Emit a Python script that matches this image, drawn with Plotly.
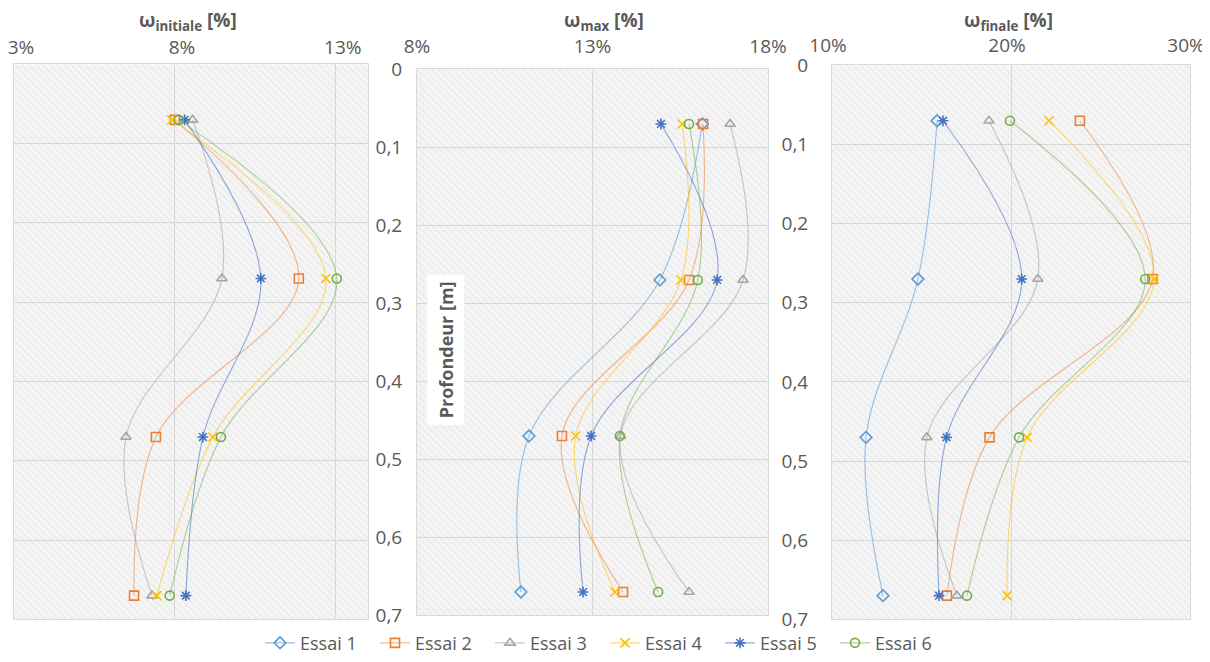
import plotly.graph_objects as go

# ---------------- data ----------------
depth = [0.07, 0.27, 0.47, 0.67]
series_names = ["Essai 1", "Essai 2", "Essai 3", "Essai 4", "Essai 5", "Essai 6"]

# water content [%] per series (Essai 1 .. Essai 6), values at each depth
w_initiale = [
    [None, None, None, None],
    [8.0, 11.85, 7.41, 6.73],
    [8.55, 9.46, 6.48, 7.29],
    [7.9, 12.69, 9.18, 7.44],
    [8.3, 10.67, 8.87, 8.34],
    [8.12, 13.03, 9.43, 7.84],
]
w_max = [
    [16.13, 14.92, 11.19, 10.96],
    [16.15, 15.75, 12.13, 13.87],
    [16.92, 17.29, 13.8, 15.75],
    [15.55, 15.52, 12.52, 13.64],
    [14.95, 16.55, 12.96, 12.73],
    [15.75, 16.0, 13.78, 14.87],
]
w_finale = [
    [15.87, 14.8, 11.9, 12.85],
    [23.85, 27.9, 18.8, 16.42],
    [18.77, 21.5, 15.3, 16.98],
    [22.12, 28.0, 20.9, 19.78],
    [16.2, 20.6, 16.4, 15.98],
    [19.94, 27.5, 20.45, 17.54],
]

panel_titles = ["ω<sub>initiale</sub> [%]", "ω<sub>max</sub> [%]", "ω<sub>finale</sub> [%]"]
x_ranges = [[3, 14], [8, 18], [10, 30]]
x_tick0 = [3, 8, 10]
x_dtick = [5, 5, 10]
depth_range = [0.7, 0]
y_title = "Profondeur [m]"

# ---------------- style / geometry ----------------
OFF = 8                      # page body margin of the html page
W, H = 1210 - OFF, 662 - OFF  # figure size so that it fits the window


def fx(px):
    return (px - OFF) / W


def fy(py):
    return 1 - (py - OFF) / H


FONT = "Open Sans"
GRAY = "#595959"
colors = ["#5B9BD5", "#ED7D31", "#A5A5A5", "#FFC000", "#4472C4", "#70AD47"]
line_colors = ["rgba(91,155,213,0.6)", "rgba(237,125,49,0.55)", "rgba(165,165,165,0.6)",
               "rgba(255,192,0,0.55)", "rgba(68,114,196,0.6)", "rgba(112,173,71,0.55)"]
symbols = ["diamond-open", "square-open", "triangle-up-open", "x-thin-open",
           "asterisk-open", "circle-open"]

# panel boxes in window pixels: (left, right, top, bottom)
boxes = [(14, 368, 65, 626), (417, 768, 70, 622), (832, 1190, 66, 626)]

fig = go.Figure()
panels = [w_initiale, w_max, w_finale]
for p, data in enumerate(panels):
    xa = "x" if p == 0 else f"x{p+1}"
    ya = "y" if p == 0 else f"y{p+1}"
    lo, hi = x_ranges[p]
    # hatched background
    fig.add_trace(go.Scatter(
        x=[lo, hi, hi, lo, lo], y=[0, 0, 0.7, 0.7, 0], xaxis=xa, yaxis=ya,
        mode="lines", line=dict(width=0), fill="toself", fillcolor="rgba(0,0,0,0)",
        fillpattern=dict(shape="\\", fgcolor="rgba(190,190,190,0.5)",
                         bgcolor="rgba(0,0,0,0)", size=5, solidity=0.22),
        hoverinfo="skip", showlegend=False))
    for i, name in enumerate(series_names):
        fig.add_trace(go.Scatter(
            x=data[i], y=depth, xaxis=xa, yaxis=ya, name=name,
            mode="lines+markers",
            line=dict(color=line_colors[i], width=1.1, shape="spline", smoothing=1.0),
            marker=dict(symbol=symbols[i], size=9, color=colors[i],
                        line=dict(width=1.6, color=colors[i])),
            legendgroup=name, showlegend=(p == 1)))

layout = dict(
    width=W, height=H, margin=dict(l=0, r=0, t=0, b=0),
    paper_bgcolor="white", plot_bgcolor="#f5f5f5",
    separators=", ",
    font=dict(family=FONT, size=18, color=GRAY),
    showlegend=True,
    legend=dict(orientation="h", x=fx(605), xanchor="center", y=fy(650), yanchor="middle",
                font=dict(size=18, color=GRAY), entrywidth=70, entrywidthmode="pixels",
                itemwidth=30, bgcolor="rgba(0,0,0,0)"),
)
label_standoff_x = [2, 8, 5]
label_shift_x = [7, 0, -4]
y_standoff = [0, 10, 19]
title_x = [188, 604, 1008]
title_bottom = [37, 37, 37]
annotations = []
for p in range(3):
    l, r, t, b = boxes[p]
    xk = "xaxis" if p == 0 else f"xaxis{p+1}"
    yk = "yaxis" if p == 0 else f"yaxis{p+1}"
    ya = "y" if p == 0 else f"y{p+1}"
    xa = "x" if p == 0 else f"x{p+1}"
    layout[xk] = dict(
        domain=[fx(l), fx(r)], anchor=ya, side="top", range=x_ranges[p],
        tick0=x_tick0[p], dtick=x_dtick[p], ticksuffix="%", ticks="",
        showgrid=True, gridcolor="#d9d9d9", gridwidth=1, zeroline=False,
        showline=True, linecolor="#d9d9d9", linewidth=1, mirror=True,
        tickfont=dict(size=19, color=GRAY), ticklabelstandoff=label_standoff_x[p],
        ticklabelshift=label_shift_x[p], ticklabeloverflow="allow",
        automargin=False, fixedrange=True)
    layout[yk] = dict(
        domain=[fy(b), fy(t)], anchor=xa, range=depth_range,
        tick0=0, dtick=0.1, ticks="", showticklabels=(p > 0),
        showgrid=True, gridcolor="#d9d9d9", gridwidth=1, zeroline=False,
        showline=True, linecolor="#d9d9d9", linewidth=1, mirror=True,
        tickfont=dict(size=19, color=GRAY), ticklabelstandoff=y_standoff[p],
        ticklabeloverflow="allow", automargin=False, fixedrange=True)
    annotations.append(dict(
        text="<b>" + panel_titles[p] + "</b>", xref="paper", yref="paper",
        x=fx(title_x[p]), y=fy(title_bottom[p]), xanchor="center", yanchor="bottom",
        showarrow=False, font=dict(size=19, color=GRAY)))

annotations.append(dict(
    text="<b>" + y_title + "</b>", xref="paper", yref="paper",
    x=fx(446), y=fy(354), xanchor="center", yanchor="middle",
    textangle=-90, showarrow=False, bgcolor="white", borderpad=6,
    font=dict(size=18, color=GRAY)))
layout["annotations"] = annotations
fig.update_layout(**layout)

fig.write_html("out.html")
